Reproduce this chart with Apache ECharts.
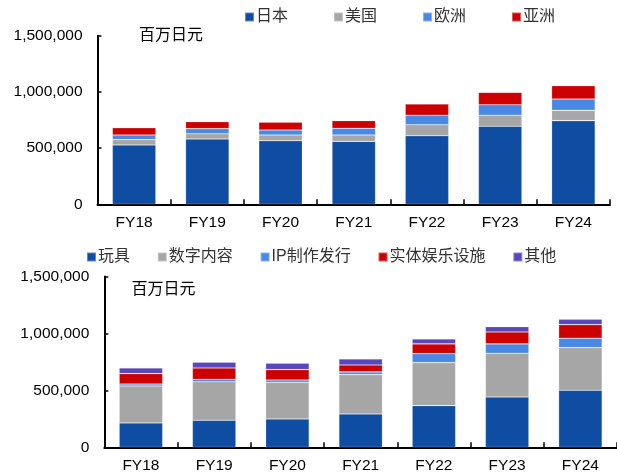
<!DOCTYPE html>
<html>
<head>
<meta charset="utf-8">
<script src="https://cdn.jsdelivr.net/npm/echarts@6/dist/echarts.min.js"></script>
<style>
  html, body { margin: 0; padding: 0; background: #fff; }
  #chart { width: 617px; height: 474px; }
</style>
</head>
<body>
<div id="chart"></div>
<script>
// Fiscal years shared by both panels
const categories = ['FY18', 'FY19', 'FY20', 'FY21', 'FY22', 'FY23', 'FY24'];

// Upper panel: net sales by region (million yen)
const regionNames = ['日本', '美国', '欧洲', '亚洲'];
const japan  = [528000, 581000, 566000, 560000, 610000, 694000, 744000];
const usa    = [47000, 47000, 51000, 57000, 98000, 98000, 92000];
const europe = [42000, 45000, 44000, 59000, 84000, 94000, 101000];
const asia   = [64000, 62000, 69000, 68000, 100000, 110000, 118000];

// Lower panel: net sales by segment (million yen)
const segmentNames = ['玩具', '数字内容', 'IP制作发行', '实体娱乐设施', '其他'];
const toys         = [214000, 237000, 249000, 293000, 366000, 442000, 501000];
const digital      = [325000, 339000, 322000, 345000, 378000, 384000, 374000];
const ipProduction = [17000, 21000, 20000, 24000, 79000, 82000, 83000];
const amusement    = [91000, 100000, 91000, 61000, 85000, 105000, 119000];
const others       = [50000, 50000, 56000, 53000, 44000, 47000, 48000];

// Value-axis ticks
const yTicks = [0, 500000, 1000000, 1500000];
const unitLabel = '百万日元';

const colors = {
  navy: '#0E4DA2',
  gray: '#A6A6A6',
  sky: '#4A88E5',
  red: '#CC0000',
  purple: '#5A46BD'
};

const latin = '"Liberation Sans", Arial, sans-serif';
const cjk = '"Liberation Sans", "Noto Sans CJK SC", sans-serif';

function valueAxis(gridIndex) {
  return {
    type: 'value',
    gridIndex: gridIndex,
    min: yTicks[0],
    max: yTicks[yTicks.length - 1],
    interval: yTicks[1] - yTicks[0],
    splitLine: { show: false },
    axisLine: { show: true, lineStyle: { color: '#000', width: 2 } },
    axisTick: { show: true, inside: true, length: 4, lineStyle: { color: '#000', width: 1.5 } },
    axisLabel: {
      margin: 15,
      color: '#000',
      fontSize: 15.5,
      fontFamily: latin,
      formatter: v => v.toLocaleString('en-US')
    }
  };
}

function categoryAxis(gridIndex) {
  return {
    type: 'category',
    gridIndex: gridIndex,
    data: categories,
    axisLine: { show: true, lineStyle: { color: '#000', width: 2 } },
    axisTick: { show: true, inside: true, length: 5, lineStyle: { color: '#000', width: 1.5 } },
    axisLabel: { margin: 10, color: '#000', fontSize: 15.5, fontFamily: latin }
  };
}

function barSeries(name, data, color, axisIndex, stack) {
  return {
    name: name,
    type: 'bar',
    stack: stack,
    xAxisIndex: axisIndex,
    yAxisIndex: axisIndex,
    data: data,
    barWidth: 43.5,
    itemStyle: { color: color, borderColor: 'rgba(255,255,255,0.35)', borderWidth: 0.6 },
    emphasis: { disabled: true }
  };
}

function legend(names, left, top, gap) {
  return {
    data: names,
    left: left,
    top: top,
    padding: 0,
    itemGap: gap,
    itemWidth: 9,
    itemHeight: 9,
    icon: 'rect',
    selectedMode: false,
    textStyle: { fontSize: 16, color: '#333', fontFamily: cjk, padding: [0, 0, 0, -3] }
  };
}

const chart = echarts.init(document.getElementById('chart'), null, { renderer: 'canvas' });

chart.setOption({
  animation: false,
  backgroundColor: '#fff',
  grid: [
    { left: 97.5, top: 35.7, width: 512.5, height: 168.6, containLabel: false },
    { left: 104.3, top: 276.5, width: 519.4, height: 170.8, containLabel: false }
  ],
  legend: [
    legend(regionNames, 244, 9, 45),
    legend(segmentNames, 86, 249, 26.8)
  ],
  xAxis: [categoryAxis(0), categoryAxis(1)],
  yAxis: [valueAxis(0), valueAxis(1)],
  graphic: [
    { type: 'text', left: 139, top: 28, style: { text: unitLabel, fontSize: 16, fill: '#000', fontFamily: cjk } },
    { type: 'text', left: 131.5, top: 282, style: { text: unitLabel, fontSize: 16, fill: '#000', fontFamily: cjk } }
  ],
  series: [
    barSeries(regionNames[0], japan, colors.navy, 0, 'region'),
    barSeries(regionNames[1], usa, colors.gray, 0, 'region'),
    barSeries(regionNames[2], europe, colors.sky, 0, 'region'),
    barSeries(regionNames[3], asia, colors.red, 0, 'region'),
    barSeries(segmentNames[0], toys, colors.navy, 1, 'segment'),
    barSeries(segmentNames[1], digital, colors.gray, 1, 'segment'),
    barSeries(segmentNames[2], ipProduction, colors.sky, 1, 'segment'),
    barSeries(segmentNames[3], amusement, colors.red, 1, 'segment'),
    barSeries(segmentNames[4], others, colors.purple, 1, 'segment')
  ]
});
</script>
</body>
</html>
